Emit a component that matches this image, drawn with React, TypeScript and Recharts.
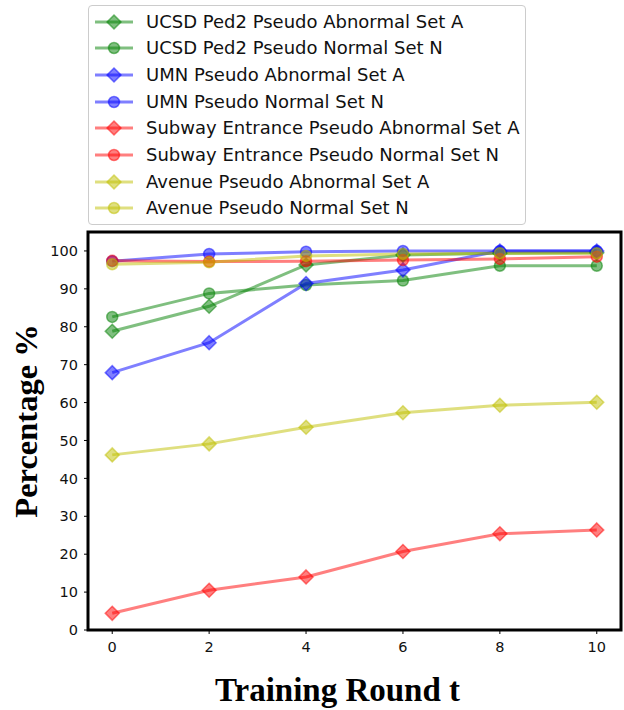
import React from 'react';
import { LineChart, Line, XAxis, YAxis, ReferenceArea } from 'recharts';

const rounds = [0, 2, 4, 6, 8, 10];
const ucsdAbnormal = [78.8, 85.4, 96.3, 98.9, 99.4, 99.5];
const ucsdNormal = [82.6, 88.8, 91.0, 92.2, 96.1, 96.1];
const umnAbnormal = [67.9, 75.8, 91.4, 95.0, 100.0, 100.0];
const umnNormal = [97.3, 99.2, 99.8, 100.0, 100.0, 100.0];
const subwayAbnormal = [4.4, 10.5, 14.0, 20.7, 25.4, 26.4];
const subwayNormal = [97.4, 97.2, 97.3, 97.6, 97.9, 98.5];
const avenueAbnormal = [46.2, 49.1, 53.5, 57.3, 59.3, 60.1];
const avenueNormal = [96.5, 97.0, 98.7, 99.2, 99.4, 99.4];

const xTicks = [0, 2, 4, 6, 8, 10];
const yTicks = [0, 10, 20, 30, 40, 50, 60, 70, 80, 90, 100];

const GREEN = '#008000';
const BLUE = '#0000ff';
const RED = '#ff0000';
const YELLOW = '#bfbf00';

type Series = { key: string; name: string; color: string; marker: 'D' | 'o'; values: number[] };

const series: Series[] = [
  { key: 'ucsdA', name: 'UCSD Ped2 Pseudo Abnormal Set A', color: GREEN, marker: 'D', values: ucsdAbnormal },
  { key: 'ucsdN', name: 'UCSD Ped2 Pseudo Normal Set N', color: GREEN, marker: 'o', values: ucsdNormal },
  { key: 'umnA', name: 'UMN Pseudo Abnormal Set A', color: BLUE, marker: 'D', values: umnAbnormal },
  { key: 'umnN', name: 'UMN Pseudo Normal Set N', color: BLUE, marker: 'o', values: umnNormal },
  { key: 'subA', name: 'Subway Entrance Pseudo Abnormal Set A', color: RED, marker: 'D', values: subwayAbnormal },
  { key: 'subN', name: 'Subway Entrance Pseudo Normal Set N', color: RED, marker: 'o', values: subwayNormal },
  { key: 'aveA', name: 'Avenue Pseudo Abnormal Set A', color: YELLOW, marker: 'D', values: avenueAbnormal },
  { key: 'aveN', name: 'Avenue Pseudo Normal Set N', color: YELLOW, marker: 'o', values: avenueNormal },
];

const data = rounds.map((t, i) => {
  const row: Record<string, number> = { t };
  series.forEach((s) => {
    row[s.key] = s.values[i];
  });
  return row;
});

const ALPHA = 0.5;

function Marker({ cx, cy, color, marker }: { cx: number; cy: number; color: string; marker: 'D' | 'o' }) {
  if (cx == null || cy == null) return null;
  if (marker === 'D') {
    const r = 7;
    return (
      <polygon
        points={`${cx},${cy - r} ${cx + r},${cy} ${cx},${cy + r} ${cx - r},${cy}`}
        fill={color}
        fillOpacity={ALPHA}
        stroke={color}
        strokeOpacity={ALPHA}
        strokeWidth={1.5}
      />
    );
  }
  return (
    <circle cx={cx} cy={cy} r={5.5} fill={color} fillOpacity={ALPHA} stroke={color} strokeOpacity={ALPHA} strokeWidth={1.5} />
  );
}

const tickStyle = { fill: '#111', fontSize: 14.5, fontFamily: 'DejaVu Sans' };

function XLabel(props: any) {
  const vb = props.viewBox || { x: 88, y: 630, width: 533, height: 30 };
  return (
    <text
      x={vb.x + vb.width / 2 - 17}
      y={vb.y + 71}
      textAnchor="middle"
      fontFamily="Liberation Serif"
      fontWeight="bold"
      fontSize={33}
      fill="#000"
    >
      Training Round t
    </text>
  );
}

function YLabel(props: any) {
  const vb = props.viewBox || { x: 38, y: 232, width: 50, height: 398 };
  const x = vb.x - 1;
  const y = vb.y + vb.height / 2 - 10;
  return (
    <text
      x={x}
      y={y}
      transform={`rotate(-90, ${x}, ${y})`}
      textAnchor="middle"
      fontFamily="Liberation Serif"
      fontWeight="bold"
      fontSize={32.5}
      fill="#000"
    >
      Percentage %
    </text>
  );
}

function LegendBox() {
  return (
    <div
      style={{
        position: 'absolute',
        left: 88,
        top: 5,
        width: 436,
        height: 218,
        border: '1px solid #cccccc',
        borderRadius: 4,
        background: 'rgba(255,255,255,0.8)',
        boxSizing: 'content-box',
      }}
    >
      {series.map((s, i) => {
        const center = 15.5 + i * 26.7;
        return (
          <div
            key={s.key}
            style={{
              position: 'absolute',
              left: 5,
              top: center - 13,
              height: 26,
              display: 'flex',
              alignItems: 'center',
              whiteSpace: 'nowrap',
            }}
          >
            <svg width={40} height={26} style={{ display: 'block' }}>
              <line x1={1} y1={13} x2={39} y2={13} stroke={s.color} strokeOpacity={ALPHA} strokeWidth={3} />
              <Marker cx={20} cy={13} color={s.color} marker={s.marker} />
            </svg>
            <span
              style={{
                marginLeft: 12,
                fontFamily: 'DejaVu Sans',
                fontSize: 18,
                color: '#111',
                lineHeight: '26px',
              }}
            >
              {s.name}
            </span>
          </div>
        );
      })}
    </div>
  );
}

export default function App() {
  return (
    <div style={{ position: 'absolute', left: 0, top: 0, width: 624, height: 710, background: '#fff' }}>
      <LineChart width={624} height={710} data={data} margin={{ top: 232, right: 3, bottom: 50, left: 38 }}>
        <XAxis
          type="number"
          dataKey="t"
          domain={[-0.5, 10.5]}
          ticks={xTicks}
          allowDataOverflow
          axisLine={false}
          tickLine={{ stroke: '#000', strokeWidth: 1 }}
          tickSize={4}
          tickMargin={8}
          tick={tickStyle}
          height={30}
          label={<XLabel />}
        />
        <YAxis
          type="number"
          domain={[0, 105]}
          ticks={yTicks}
          allowDataOverflow
          axisLine={false}
          tickLine={{ stroke: '#000', strokeWidth: 1 }}
          tickSize={4}
          tickMargin={6}
          tick={tickStyle}
          width={50}
          label={<YLabel />}
        />
        {series.map((s) => (
          <Line
            key={s.key}
            type="linear"
            dataKey={s.key}
            name={s.name}
            stroke={s.color}
            strokeOpacity={ALPHA}
            strokeWidth={3}
            isAnimationActive={false}
            dot={(p: any) => <Marker key={`${s.key}-${p.index}`} cx={p.cx} cy={p.cy} color={s.color} marker={s.marker} />}
            activeDot={false}
          />
        ))}
        <ReferenceArea
          x1={-0.5}
          x2={10.5}
          y1={0}
          y2={105}
          fill="none"
          fillOpacity={0}
          stroke="#000"
          strokeWidth={3}
          strokeOpacity={1}
          ifOverflow="visible"
        />
      </LineChart>
      <LegendBox />
    </div>
  );
}
